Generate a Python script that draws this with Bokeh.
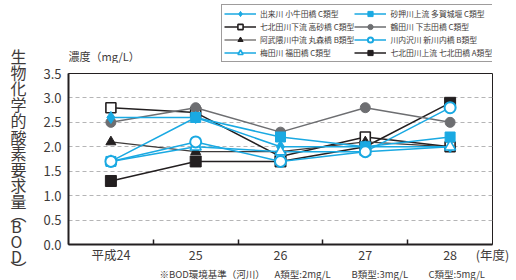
from bokeh.plotting import figure
from bokeh.layouts import row, column
from bokeh.models import Range1d, FixedTicker, Legend, LegendItem, NumeralTickFormatter
from bokeh.core.properties import value
from bokeh.embed import file_html
from bokeh.resources import INLINE

# ---- data ----
years = ["平成24", "25", "26", "27", "28"]
y_ticks = [0.0, 0.5, 1.0, 1.5, 2.0, 2.5, 3.0, 3.5]

dekigawa = [2.6, 2.6, 2.0, 2.0, 2.0]        # 出来川 小牛田橋 C類型
nanakita_down = [2.8, 2.7, 1.8, 2.2, 2.0]   # 七北田川下流 高砂橋 C類型
abukuma = [2.1, 1.9, 1.9, 2.1, 2.0]         # 阿武隈川中流 丸森橋 B類型
umeda = [1.7, 2.0, 1.9, 1.9, 2.0]           # 梅田川 福田橋 C類型
sunaoshi = [1.7, 2.6, 2.2, 2.0, 2.2]        # 砂押川上流 多賀城堰 C類型
tsuruta = [2.5, 2.8, 2.3, 2.8, 2.5]         # 鶴田川 下志田橋 C類型
kawauchi = [1.7, 2.1, 1.7, 1.9, 2.8]        # 川内沢川 新川内橋 B類型
nanakita_up = [1.3, 1.7, 1.7, 2.0, 2.9]     # 七北田川上流 七北田橋 A類型

names = ["出来川 小牛田橋 C類型", "七北田川下流 高砂橋 C類型", "阿武隈川中流 丸森橋 B類型",
         "梅田川 福田橋 C類型", "砂押川上流 多賀城堰 C類型", "鶴田川 下志田橋 C類型",
         "川内沢川 新川内橋 B類型", "七北田川上流 七北田橋 A類型"]
series = [dekigawa, nanakita_down, abukuma, umeda, sunaoshi, tsuruta, kawauchi, nanakita_up]

unit_label = "濃度（mg/L）"
year_label = "(年度)"
footnotes = ["※BOD環境基準（河川）", "A類型:2mg/L", "B類型:3mg/L", "C類型:5mg/L"]
y_title_chars = list("生物化学的酸素要求量") + ["︵", "B", "O", "D", "︶"]

FONT = "Noto Sans CJK JP"
CYAN = "#1aa9e2"
BLACK = "#231f20"
GRAY = "#6d6e71"
DARK = "#3e3a39"
TXT = "#3e3a39"

# style per series: (line color, line width, marker, size, fill, edge color, edge width)
styles = [
    (CYAN, 1.5, "diamond", 12, CYAN, CYAN, 1),
    (BLACK, 1.5, "square", 10, "white", BLACK, 1.6),
    (DARK, 1.2, "triangle", 10, BLACK, BLACK, 1),
    (CYAN, 1.5, "triangle", 11, "white", CYAN, 1.6),
    (CYAN, 1.5, "square", 10, CYAN, CYAN, 1),
    (GRAY, 1.5, "circle", 10, GRAY, GRAY, 1),
    (CYAN, 1.5, "circle", 11, "white", CYAN, 2),
    (BLACK, 1.5, "square", 11, BLACK, BLACK, 1),
]

# ---- layout geometry (page pixels) ----
LW = 38                 # left strip: x 0..38
CW = 476                # column width: x 38..514
TH, MH, BH = 63, 203, 14
FRAME_L, FRAME_R = 68, 492
FRAME_T, FRAME_B = 73, 248
BL = FRAME_L - LW
BR = LW + CW - FRAME_R


def strip(w, h, xr, yr, bl=0, br=0):
    f = figure(width=w, height=h, x_range=Range1d(*xr), y_range=Range1d(*yr),
               output_backend="svg", toolbar_location=None, title=None,
               x_axis_location=None, y_axis_location=None,
               min_border_left=bl, min_border_right=br, min_border_top=0, min_border_bottom=0)
    f.outline_line_color = None
    f.grid.visible = False
    return f


# left strip: vertical axis title
L = strip(LW, TH + MH + BH, (0, LW), (TH + MH + BH, 0))
ypos = [55 + 16.2 * i for i in range(10)] + [213, 225, 240, 255, 267]
xpos = [18 if ch not in "BOD" else 16 for ch in y_title_chars]
L.text(x=xpos, y=ypos, text=y_title_chars, text_font=value(FONT), text_font_size="16px",
       text_align="center", text_baseline="middle", text_color=TXT)

# top strip: unit label + legend
T = strip(CW, TH, (FRAME_L, FRAME_R), (TH, 0), BL, BR)
T.text(x=[FRAME_L], y=[55], text=[unit_label], text_font=value(FONT), text_font_size="11px",
       text_align="left", text_baseline="middle", text_color=TXT)

# bottom strip: footnote
B = strip(CW, BH, (FRAME_L, FRAME_R), (TH + MH + BH, TH + MH), BL, BR)
B.text(x=[159, 274, 351, 428], y=[273] * 4, text=footnotes, text_font=value(FONT),
       text_font_size="9.5px", text_align="left", text_baseline="middle", text_color=TXT)

# ---- main chart ----
xs = list(range(len(years)))
M = figure(width=CW, height=MH, output_backend="svg", toolbar_location=None,
           x_range=Range1d(-0.5, len(years) - 0.5), y_range=Range1d(0, 3.5),
           min_border_left=BL, min_border_right=BR, min_border_top=FRAME_T - TH,
           min_border_bottom=TH + MH - FRAME_B)
M.outline_line_color = BLACK
M.outline_line_width = 1
M.xgrid.grid_line_color = None
M.ygrid.grid_line_color = "#b5b5b6"
M.ygrid.grid_line_dash = "4 3"
M.ygrid.grid_line_width = 1

xa = M.xaxis[0]
xa.ticker = FixedTicker(ticks=xs + [len(years) - 0.5], minor_ticks=[i + 0.5 for i in xs[:-1]])
overrides = {i: years[i] for i in xs}
overrides[len(years) - 0.5] = year_label
xa.major_label_overrides = overrides
xa.major_tick_line_color = None
xa.major_tick_in = 0
xa.major_tick_out = 0
xa.minor_tick_in = 5
xa.minor_tick_out = 0
xa.minor_tick_line_color = BLACK
xa.minor_tick_line_width = 1.5
xa.axis_line_width = 2
xa.axis_line_color = BLACK
xa.major_label_text_font = FONT
xa.major_label_text_font_size = "12.5px"
xa.major_label_text_color = TXT
xa.major_label_standoff = 0

ya = M.yaxis[0]
ya.ticker = FixedTicker(ticks=y_ticks)
ya.formatter = NumeralTickFormatter(format="0.0")
ya.major_tick_line_color = None
ya.major_tick_in = 0
ya.major_tick_out = 0
ya.minor_tick_line_color = None
ya.axis_line_width = 2
ya.axis_line_color = BLACK
ya.major_label_text_font = FONT
ya.major_label_text_font_size = "13px"
ya.major_label_text_color = TXT
ya.major_label_standoff = 7

draw_order = [7, 1, 2, 5, 4, 0, 3, 6]
for i in draw_order:
    lc, lw, mk, sz, fc, ec, ew = styles[i]
    M.line(xs, series[i], line_color=lc, line_width=lw)
    M.scatter(xs, series[i], marker=mk, size=sz, fill_color=fc, line_color=ec, line_width=ew)

# legend (samples use the same styles; their data lies outside the strip's view)
items = []
for i in range(len(names)):
    lc, lw, mk, sz, fc, ec, ew = styles[i]
    rl = T.line(xs, series[i], line_color=lc, line_width=lw)
    rs = T.scatter(xs, series[i], marker=mk, size=sz, fill_color=fc, line_color=ec, line_width=ew)
    items.append(LegendItem(label=names[i], renderers=[rl, rs], index=0))
legend = Legend(items=items, location=(221 - FRAME_L, 1), orientation="vertical", ncols=2,
                label_text_font=FONT, label_text_font_size="7.8px", label_text_color=TXT,
                label_text_line_height=0.8,
                glyph_width=32, glyph_height=13, label_height=12, spacing=0, padding=2,
                label_standoff=4, margin=0, border_line_color=DARK, border_line_width=1,
                background_fill_color="white", background_fill_alpha=1)
T.add_layout(legend, "center")

layout = row(L, column(T, M, B, spacing=0), spacing=0)
open("out.html", "w").write(file_html(layout, INLINE))
